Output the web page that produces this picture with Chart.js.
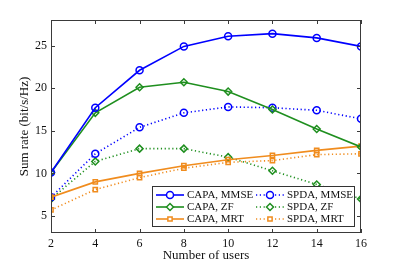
<!DOCTYPE html>
<html>
<head>
<meta charset="utf-8">
<script src="https://cdn.jsdelivr.net/npm/chart.js@4"></script>
<style>
  html, body { margin: 0; padding: 0; background: #fff; }
  #wrap { width: 399px; height: 266px; }
</style>
</head>
<body>
<div id="wrap"><canvas id="c" width="399" height="266"></canvas></div>
<script>
// Valores.
const USERS = [2, 4, 6, 8, 10, 12, 14, 16];
const CAPA_MMSE = [10.1, 17.7, 22.1, 24.9, 26.1, 26.4, 25.9, 24.9];
const CAPA_ZF = [10.1, 17.1, 20.1, 20.7, 19.6, 17.5, 15.2, 13.1];
const CAPA_MRT = [7.2, 9.0, 10.0, 10.9, 11.6, 12.1, 12.7, 13.2];
const SPDA_MMSE = [7.2, 12.3, 15.4, 17.1, 17.8, 17.7, 17.4, 16.4];
const SPDA_ZF = [7.0, 11.4, 12.9, 12.9, 11.9, 10.3, 8.7, 7.0];
const SPDA_MRT = [5.7, 8.1, 9.5, 10.6, 11.3, 11.5, 12.2, 12.3];
const X_TICKS = [2, 4, 6, 8, 10, 12, 14, 16];
const Y_TICKS = [5, 10, 15, 20, 25];

const BLUE = "#0000ff", GREEN = "#1f8f1f", ORANGE = "#f08c1e";
const FONT = "'Liberation Serif', 'DejaVu Serif', serif";
const DOT = [1.2, 2.6];

function serie(label, data, color, style, dashed) {
  return {
    label, data: USERS.map((u, i) => ({ x: u, y: data[i] })),
    borderColor: color, backgroundColor: "rgba(0,0,0,0)", pointBorderColor: color,
    pointBackgroundColor: "rgba(0,0,0,0)", pointStyle: style,
    pointRadius: style === "rect" ? 3 : 3.5, pointBorderWidth: 1.5,
    borderWidth: 1.6, borderDash: dashed ? DOT : [], tension: 0, fill: false,
  };
}

const datasets = [
  serie("CAPA, MMSE", CAPA_MMSE, BLUE, "circle", false),
  serie("CAPA, ZF", CAPA_ZF, GREEN, "rectRot", false),
  serie("CAPA, MRT", CAPA_MRT, ORANGE, "rect", false),
  serie("SPDA, MMSE", SPDA_MMSE, BLUE, "circle", true),
  serie("SPDA, ZF", SPDA_ZF, GREEN, "rectRot", true),
  serie("SPDA, MRT", SPDA_MRT, ORANGE, "rect", true),
];

// Marco con marcas hacia dentro (estilo MATLAB) + leyenda dentro del área.
const frame = {
  id: "frame",
  afterDatasetsDraw(chart) {
    const { ctx, chartArea: a, scales: { x, y } } = chart;
    ctx.save();
    ctx.strokeStyle = "#3a3a3a"; ctx.lineWidth = 1;
    ctx.strokeRect(a.left + 0.5, a.top + 0.5, a.right - a.left - 1, a.bottom - a.top - 1);
    ctx.beginPath();
    X_TICKS.forEach((v) => {
      const px = Math.round(x.getPixelForValue(v)) + 0.5;
      ctx.moveTo(px, a.bottom); ctx.lineTo(px, a.bottom - 4);
      ctx.moveTo(px, a.top); ctx.lineTo(px, a.top + 4);
    });
    Y_TICKS.forEach((v) => {
      const py = Math.round(y.getPixelForValue(v)) + 0.5;
      ctx.moveTo(a.left, py); ctx.lineTo(a.left + 4, py);
      ctx.moveTo(a.right, py); ctx.lineTo(a.right - 4, py);
    });
    ctx.stroke();

    // Leyenda
    const L = { x: 152.5, y: 186.5, w: 202, h: 40 };
    ctx.fillStyle = "#fff"; ctx.fillRect(L.x, L.y, L.w, L.h);
    ctx.strokeStyle = "#333"; ctx.strokeRect(L.x, L.y, L.w, L.h);
    ctx.font = "11px " + FONT; ctx.textBaseline = "middle";
    chart.data.datasets.forEach((d, i) => {
      const col = Math.floor(i / 3), row = i % 3;
      const x0 = col ? 256 : 156, ly = 195 + row * 12;
      ctx.save();
      ctx.strokeStyle = d.borderColor; ctx.lineWidth = d.borderWidth;
      ctx.setLineDash(d.borderDash);
      ctx.beginPath(); ctx.moveTo(x0, ly); ctx.lineTo(x0 + 28, ly); ctx.stroke();
      ctx.setLineDash([]); ctx.lineWidth = d.pointBorderWidth; ctx.fillStyle = "#fff";
      Chart.helpers.drawPoint(ctx, { pointStyle: d.pointStyle, radius: d.pointRadius, rotation: 0, borderWidth: d.pointBorderWidth }, x0 + 14, ly);
      ctx.restore();
      ctx.fillStyle = "#111";
      ctx.fillText(d.label, x0 + 31, ly + 0.5);
    });
    ctx.restore();
  },
};

new Chart(document.getElementById("c"), {
  type: "line",
  data: { datasets },
  plugins: [frame],
  options: {
    responsive: false, animation: false, devicePixelRatio: 1,
    layout: { padding: { left: 0, right: 38, top: 20, bottom: 0 } },
    plugins: { legend: { display: false }, tooltip: { enabled: false } },
    scales: {
      x: {
        type: "linear", min: 2, max: 16,
        afterBuildTicks: (s) => { s.ticks = X_TICKS.map((v) => ({ value: v })); },
        afterFit: (s) => { s.height = 33; },
        grid: { display: false, drawTicks: false }, border: { display: false },
        ticks: { color: "#111", font: { family: FONT, size: 12 }, padding: 4, maxRotation: 0 },
        title: { display: true, text: "Number of users", color: "#111", font: { family: FONT, size: 13 }, padding: { top: 0, bottom: 3 } },
      },
      y: {
        min: 3, max: 28,
        afterBuildTicks: (s) => { s.ticks = Y_TICKS.map((v) => ({ value: v })); },
        afterFit: (s) => { s.width = 51; },
        grid: { display: false, drawTicks: false }, border: { display: false },
        ticks: { color: "#111", font: { family: FONT, size: 12 }, padding: 4 },
        title: { display: true, text: "Sum rate (bit/s/Hz)", color: "#111", font: { family: FONT, size: 13 }, padding: { top: 17, bottom: 0 } },
      },
    },
  },
});
</script>
</body>
</html>
